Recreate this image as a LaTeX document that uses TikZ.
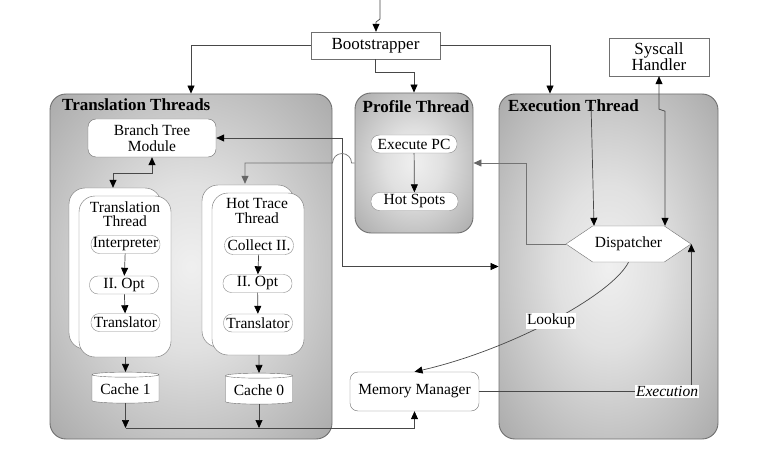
\documentclass[tikz,border=0pt]{standalone}
\usepackage{fontspec}
\setmainfont{Liberation Serif}
\usepackage{tikz}
\usetikzlibrary{shapes.geometric,shapes.symbols,shadows,arrows.meta,positioning,calc}
\definecolor{edgegray}{RGB}{112, 112, 112}
\definecolor{linegray}{RGB}{72, 72, 72}
\pgfdeclareradialshading{threadshade}{\pgfpoint{0bp}{0bp}}{%
  color(0bp)=(white!94!black); color(12bp)=(white!88!black);
  color(32bp)=(black!30); color(50bp)=(black!47)}
\tikzset{
    group/.style={rectangle, draw=edgegray, line width=0.9pt, rounded corners=16pt,
                  shading=threadshade},
    grouptitle/.style={font=\fontsize{17}{18}\selectfont\bfseries, inner sep=0pt},
    topbox/.style={rectangle, draw=edgegray, fill=white, align=center, inner sep=0pt,
                   font=\fontsize{17}{16}\selectfont},
    module/.style={rectangle, draw=edgegray, fill=white, rounded corners=8pt,
                   align=center, inner sep=0pt},
    card/.style={rectangle, draw=edgegray, fill=white, rounded corners=16pt,
                 minimum width=92pt, copy shadow={shadow xshift=-10pt, shadow yshift=8pt}},
    cardtitle/.style={align=center, inner sep=0pt, font=\fontsize{15.5}{14.5}\selectfont},
    stage/.style={rectangle, rounded corners=8.5pt, draw=edgegray!80, fill=white,
                  minimum width=69pt, minimum height=18pt, inner sep=0pt},
    cache/.style={cylinder, shape border rotate=90, aspect=0.1, draw=edgegray,
                  fill=white, minimum width=67pt, minimum height=31pt, inner sep=0pt},
    dispatch/.style={signal, signal to=west and east, signal pointer angle=68,
                     draw=edgegray, fill=white, minimum width=125pt, minimum height=36pt,
                     inner sep=0pt},
    flow/.style={draw=linegray, line width=0.7pt,
                 -{Triangle[length=8pt, width=7pt, color=black]}},
    biflow/.style={draw=linegray, line width=0.7pt,
                   {Triangle[length=8pt, width=7pt, color=black]}-{Triangle[length=8pt, width=7pt, color=black]}},
    hotflow/.style={draw=black!55, line width=0.7pt,
                    -{Triangle[length=8pt, width=7pt, color=black!60]}},
    tag/.style={fill=white, inner sep=1pt},
}

\begin{document}
\begin{tikzpicture}[x=1pt, y=-1pt, font=\fontsize{15.5}{16}\selectfont]
    \useasboundingbox (0,0) rectangle (783,457);

    % Thread groups
    \node [group, minimum width=282pt, minimum height=345pt] (transgrp) at (191,266.5) {};
    \node [group, minimum width=118pt, minimum height=140pt] (profgrp)  at (414,163)   {};
    \node [group, minimum width=219pt, minimum height=345pt] (execgrp)  at (608.5,266.5) {};
    \node [grouptitle, anchor=west] (transtitle) at (62,105)  {Translation Threads};
    \node [grouptitle]              (proftitle)  at (416,107) {Profile Thread};
    \node [grouptitle, anchor=west] (exectitle)  at (508,106) {Execution Thread};

    % Top level
    \node [topbox, minimum width=129pt, minimum height=27pt] (boot) at (375.5,45.5) {Bootstrapper};
    \node [topbox, minimum width=100pt, minimum height=38pt] (sys)  at (659,57)     {Syscall\\Handler};
    \coordinate (in) at (380,0);

    % Translation threads
    \node [module, minimum width=128pt, minimum height=38pt] (btm) at (152,138) {Branch Tree\\Module};
    \node [card, minimum height=161pt] (ttcard)  at (125,276.5) {};
    \node [cardtitle]                  (tttitle) at (125,214)   {Translation\\Thread};
    \node [stage] (interp) at (125.5,244.5) {Interpreter};
    \node [stage] (opt1)   at (124,285)     {II. Opt};
    \node [stage] (tr1)    at (125.5,322.5) {Translator};
    \node [card, minimum height=162pt] (htcard)  at (258,274) {};
    \node [cardtitle]                  (httitle) at (257,211) {Hot Trace\\Thread};
    \node [stage] (coll)   at (259,245.5)   {Collect II.};
    \node [stage] (opt0)   at (257.5,283.5) {II. Opt};
    \node [stage] (tr0)    at (258,323)     {Translator};
    \node [cache] (cache1) at (125.5,389) {Cache 1};
    \node [cache] (cache0) at (259,390)   {Cache 0};
    \coordinate (bus) at (414.5,428);

    % Profile thread
    \node [stage, minimum width=86pt] (execpc)   at (414,144)     {Execute PC};
    \node [stage, minimum width=87pt] (hotspots) at (414.5,201.5) {Hot Spots};

    % Execution thread
    \node [dispatch] (disp) at (628.5,244) {Dispatcher};
    \node [module, minimum width=129pt, minimum height=39pt] (mm) at (414.5,391.5) {Memory Manager};
    \coordinate (execsrc) at (591,103);

    % Bootstrapper
    \draw[flow] (in) -- ++(0,19) -- ++(-4,3) coordinate (injog) -- (injog |- boot.north);
    \draw[flow] (boot.west) -| (transgrp.north);
    \draw[flow] (boot.south) -- ++(0,13) -| (profgrp.north);
    \draw[flow] (boot.east) -| ([xshift=-58.5pt]execgrp.north);

    % Inside the threads
    \draw[biflow] (btm.south) -- ++(0,16) -| ([xshift=-12pt, yshift=8pt]ttcard.north);
    \draw[flow] (interp) -- (opt1);
    \draw[flow] (opt1) -- (tr1);
    \draw[flow] (coll) -- (opt0);
    \draw[flow] (opt0) -- (tr0);
    \draw[flow] (ttcard.south -| cache1) -- (cache1.north);
    \draw[flow] (htcard.south -| cache0) -- (cache0.north);
    \draw[flow] (cache1.south) -- (cache1.south |- bus);
    \draw[flow] (cache0.south) -- (cache0.south |- bus);
    \draw[flow] (cache1.south |- bus) -- (bus) -- (mm.south);
    \draw[flow] (execpc) -- (hotspots);

    % Between threads
    \draw[biflow] (btm.east) -- ++(126,0) |- (execgrp.west);
    \draw[hotflow] (disp.west) -- ++(-39,0) |- (profgrp.east);
    \draw[hotflow] (profgrp.west) -- ++(-3,0) arc[start angle=0, end angle=180, radius=9.5pt]
        -| ([xshift=-13pt, yshift=9pt]htcard.north);

    % Dispatcher
    \draw[flow] (execsrc) -- ([xshift=-34.5pt]disp.north);
    \draw[biflow] (sys.south) -- ++(0,33) -- ++(6,2) coordinate (sysjog) -- (sysjog |- disp.north);
    \draw[flow] (disp.south) .. controls (612,295) and (510,350) .. (mm.north)
        node[tag, pos=0.5] (lookup) {Lookup};
    \draw[flow] (mm.east) -| (disp.east)
        node[tag, pos=0.5, anchor=east, xshift=8pt] (execlbl) {\itshape Execution};
\end{tikzpicture}
\end{document}
